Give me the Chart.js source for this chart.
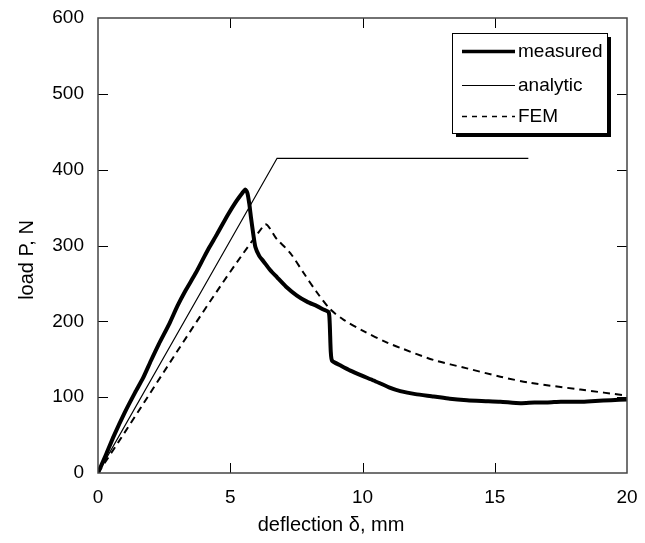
<!DOCTYPE html>
<html>
<head>
<meta charset="utf-8">
<script src="https://cdn.jsdelivr.net/npm/chart.js@4"></script>
<style>
  body { margin: 0; background: #fff; }
  canvas { display: block; }
</style>
</head>
<body>
<canvas id="chart" width="645" height="543"></canvas>
<script>
// values
const measuredX = [0, 0.3, 0.6, 1.0, 1.4, 1.7, 2.0, 2.3, 2.7, 3.0, 3.3, 3.7, 4.0, 4.2, 4.5, 4.9, 5.2, 5.45, 5.57,
  5.65, 5.72, 5.78, 5.85, 5.95, 6.1, 6.26, 6.5, 6.77, 7.1, 7.52, 7.9, 8.28, 8.5, 8.72, 8.76, 8.8, 8.85,
  9.16, 9.54, 10.0, 10.42, 11.0, 11.43, 12.0, 12.69, 13.3, 13.95, 14.5, 15.21, 15.97, 16.5, 17.0, 17.5,
  18.24, 18.8, 19.4, 20.0];
const measuredY = [0, 24, 49, 79, 106, 125, 148, 170, 197, 220, 240, 264, 284, 297, 315, 340, 357, 369, 374,
  369, 355, 338, 320, 298, 286, 279, 268, 258, 246, 234, 226, 220, 216, 212, 198, 160, 148,
  142, 135, 128, 122, 113, 108, 104, 101, 98, 96, 95, 94, 92, 93, 93, 94, 94, 95, 96, 97];

const analyticX = [0, 6.77, 16.27];
const analyticY = [0, 415, 415];

const femX = [0, 6.28, 6.77, 7.27, 7.77, 8.28, 8.78, 9.29, 10.04, 10.93, 11.43, 12.69, 13.95, 15.21, 16.34, 18.24, 20];
const femY = [0, 327, 308, 290, 264, 238, 216, 202, 187, 172, 165, 149, 138, 127, 119, 110, 102];

const xTicks = [0, 5, 10, 15, 20];
const yTicks = [0, 100, 200, 300, 400, 500, 600];

const FONT = '"Liberation Sans", Arial, sans-serif';

function pts(xs, ys) {
  return xs.map((x, i) => ({ x: x, y: ys[i] }));
}

// frame, inward ticks on all four sides, axis titles and the boxed legend
const decor = {
  id: 'decor',
  afterDraw(chart) {
    const c = chart.ctx;
    const a = chart.chartArea;
    const sx = chart.scales.x, sy = chart.scales.y;
    c.save();

    c.strokeStyle = '#000';
    c.lineWidth = 1;
    c.beginPath();
    xTicks.slice(1, -1).forEach(v => {
      const px = Math.round(sx.getPixelForValue(v)) + 0.5;
      c.moveTo(px, a.bottom); c.lineTo(px, a.bottom - 10);
      c.moveTo(px, a.top); c.lineTo(px, a.top + 10);
    });
    yTicks.slice(1, -1).forEach(v => {
      const py = Math.round(sy.getPixelForValue(v)) + 0.5;
      c.moveTo(a.left, py); c.lineTo(a.left + 10, py);
      c.moveTo(a.right, py); c.lineTo(a.right - 10, py);
    });
    c.stroke();

    c.strokeStyle = '#444';
    c.lineWidth = 1.5;
    c.strokeRect(a.left, a.top, a.right - a.left, a.bottom - a.top);

    // axis titles
    c.fillStyle = '#000';
    c.font = '20px ' + FONT;
    c.textAlign = 'center';
    c.textBaseline = 'alphabetic';
    c.fillText('deflection \u03b4, mm', 331, 531);
    c.save();
    c.translate(33, 260);
    c.rotate(-Math.PI / 2);
    c.fillText('load P, N', 0, 0);
    c.restore();

    // legend
    const bx = 452, by = 33, bw = 155, bh = 100;
    c.fillStyle = '#000';
    c.fillRect(bx + 4, by + 4, bw, bh);
    c.fillStyle = '#fff';
    c.fillRect(bx, by, bw, bh);
    c.strokeStyle = '#000';
    c.lineWidth = 1;
    c.strokeRect(bx + 0.5, by + 0.5, bw, bh);

    const items = [
      { label: 'measured', y: 51, w: 3.5, dash: [] },
      { label: 'analytic', y: 85, w: 1, dash: [] },
      { label: 'FEM', y: 116, w: 1.5, dash: [5, 5] }
    ];
    c.fillStyle = '#000';
    c.font = '19px ' + FONT;
    c.textAlign = 'left';
    c.textBaseline = 'middle';
    items.forEach(it => {
      c.beginPath();
      c.setLineDash(it.dash);
      c.lineWidth = it.w;
      c.moveTo(462, it.y + 0.5);
      c.lineTo(515, it.y + 0.5);
      c.stroke();
      c.setLineDash([]);
      c.fillText(it.label, 518, it.y + 1);
    });

    c.restore();
  }
};

new Chart(document.getElementById('chart'), {
  type: 'line',
  data: {
    datasets: [
      {
        label: 'measured',
        data: pts(measuredX, measuredY),
        borderColor: '#000',
        borderWidth: 4,
        pointRadius: 0,
        tension: 0.2,
        borderJoinStyle: 'round'
      },
      {
        label: 'analytic',
        data: pts(analyticX, analyticY),
        borderColor: '#000',
        borderWidth: 1.2,
        pointRadius: 0,
        tension: 0
      },
      {
        label: 'FEM',
        data: pts(femX, femY),
        borderColor: '#000',
        borderWidth: 2,
        borderDash: [7, 5],
        pointRadius: 0,
        tension: 0.3
      }
    ]
  },
  options: {
    responsive: false,
    animation: false,
    layout: { padding: { top: 18, right: 18, left: 0, bottom: 0 } },
    plugins: { legend: { display: false }, tooltip: { enabled: false } },
    scales: {
      x: {
        type: 'linear',
        min: 0,
        max: 20,
        afterBuildTicks: s => { s.ticks = xTicks.map(v => ({ value: v })); },
        afterFit: s => { s.height = 70; s.paddingLeft = 0; s.paddingRight = 0; },
        grid: { display: false, drawTicks: false },
        border: { display: false },
        ticks: { color: '#000', padding: 13, font: { size: 19, family: FONT }, maxRotation: 0 }
      },
      y: {
        type: 'linear',
        min: 0,
        max: 600,
        afterBuildTicks: s => { s.ticks = yTicks.map(v => ({ value: v })); },
        afterFit: s => { s.width = 98; s.paddingTop = 0; s.paddingBottom = 0; },
        grid: { display: false, drawTicks: false },
        border: { display: false },
        ticks: { color: '#000', padding: 14, font: { size: 19, family: FONT } }
      }
    }
  },
  plugins: [decor]
});
</script>
</body>
</html>
